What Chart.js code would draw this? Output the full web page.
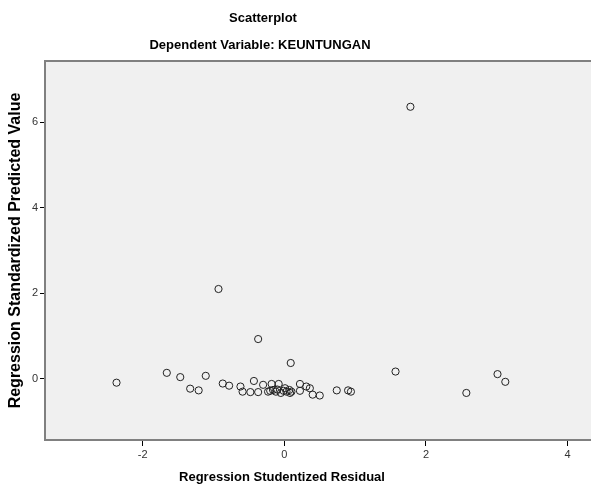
<!DOCTYPE html>
<html>
<head>
<meta charset="utf-8">
<script src="https://cdn.jsdelivr.net/npm/chart.js@4/dist/chart.umd.min.js"></script>
<style>
  html, body { margin: 0; padding: 0; background: #fff; overflow: hidden; }
  #wrap { width: 591px; height: 485px; overflow: hidden; }
</style>
</head>
<body>
<div id="wrap"><canvas id="scatter" width="597" height="485"></canvas></div>
<script>
// Studentized residual (x) vs standardized predicted value (y)
const residuals = [
  -2.37, -1.66, -1.47, -1.33, -1.21, -1.11, -0.87, -0.78, -0.62, -0.59,
  -0.48, -0.43, -0.37, -0.30, -0.23, -0.18, -0.16, -0.12, -0.10, -0.08,
  -0.05, -0.01, 0.03, 0.07, 0.08, 0.10, 0.22, 0.22, 0.31, 0.36,
  0.40, 0.50, 0.74, 0.90, 0.94, 2.57, 3.01, 3.12, 1.57, 0.09,
  -0.37, -0.93, 1.78, -0.20, 0.01
];
const predicted = [
  -0.09, 0.14, 0.04, -0.23, -0.27, 0.07, -0.11, -0.16, -0.18, -0.30,
  -0.31, -0.05, -0.31, -0.14, -0.30, -0.12, -0.26, -0.30, -0.25, -0.12,
  -0.33, -0.28, -0.30, -0.26, -0.33, -0.30, -0.12, -0.28, -0.18, -0.22,
  -0.37, -0.39, -0.27, -0.27, -0.30, -0.33, 0.11, -0.07, 0.17, 0.37,
  0.93, 2.10, 6.36, -0.28, -0.22
];
const xTicks = [-2, 0, 2, 4];
const yTicks = [0, 2, 4, 6];

const points = residuals.map((x, i) => ({ x: x, y: predicted[i] }));

// plot background, top border and the titles
const frame = {
  id: 'frame',
  beforeDraw(chart) {
    const a = chart.chartArea, c = chart.ctx;
    c.save();
    c.fillStyle = '#f0f0f0';
    c.fillRect(a.left, a.top, a.right - a.left, a.bottom - a.top);
    c.restore();
  },
  afterDraw(chart) {
    const a = chart.chartArea, c = chart.ctx;
    c.save();
    c.strokeStyle = '#808080';
    c.lineWidth = 2;
    c.beginPath();
    c.moveTo(a.left, a.top);
    c.lineTo(a.right, a.top);
    c.stroke();
    c.fillStyle = '#000';
    c.textAlign = 'center';
    c.textBaseline = 'middle';
    c.font = 'bold 13px "Liberation Sans", Arial, sans-serif';
    c.fillText('Scatterplot', 263, 18);
    c.fillText('Dependent Variable: KEUNTUNGAN', 260, 45);
    c.fillText('Regression Studentized Residual', 282, 477);
    c.restore();
  }
};

const ctx = document.getElementById('scatter').getContext('2d');
new Chart(ctx, {
  type: 'scatter',
  data: {
    datasets: [{
      data: points,
      backgroundColor: 'rgba(0,0,0,0)',
      borderColor: '#222',
      borderWidth: 1,
      pointRadius: 3.6,
      pointHoverRadius: 3.6
    }]
  },
  options: {
    responsive: false,
    animation: false,
    layout: { padding: { top: 61, right: 0, left: 0, bottom: 0 } },
    scales: {
      x: {
        type: 'linear',
        min: -3.38,
        max: 4.35,
        afterBuildTicks: axis => { axis.ticks = xTicks.map(v => ({ value: v })); },
        afterFit: s => { s.height = 45; },
        grid: { drawOnChartArea: false, drawTicks: true, tickLength: 6, color: '#000' },
        border: { display: true, color: '#808080', width: 2 },
        ticks: { color: '#333', padding: 2, font: { size: 11, family: '"Liberation Sans", Arial, sans-serif' } }
      },
      y: {
        type: 'linear',
        min: -1.43,
        max: 7.43,
        afterBuildTicks: axis => { axis.ticks = yTicks.map(v => ({ value: v })); },
        afterFit: s => { s.width = 45; },
        grid: { drawOnChartArea: false, drawTicks: true, tickLength: 5, color: '#000' },
        border: { display: true, color: '#808080', width: 2 },
        ticks: { color: '#333', padding: 2, font: { size: 11, family: '"Liberation Sans", Arial, sans-serif' } },
        title: {
          display: true,
          text: 'Regression Standardized Predicted Value',
          color: '#000',
          padding: { top: 6, bottom: 0 },
          font: { size: 16, weight: 'bold', family: '"Liberation Sans", Arial, sans-serif' }
        }
      }
    },
    plugins: {
      legend: { display: false },
      tooltip: { enabled: false }
    }
  },
  plugins: [frame]
});
</script>
</body>
</html>
